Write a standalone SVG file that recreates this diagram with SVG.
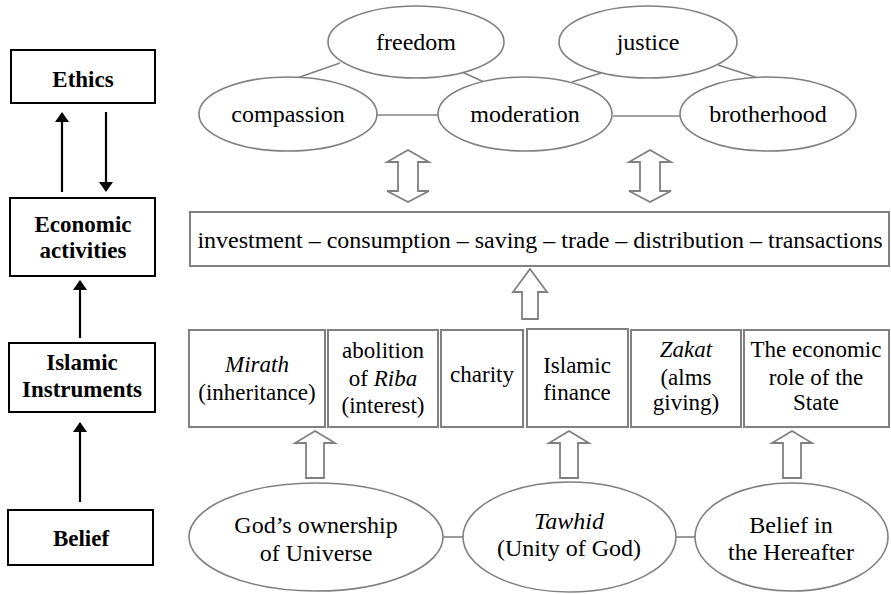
<svg xmlns="http://www.w3.org/2000/svg" width="891" height="594" viewBox="0 0 891 594" font-family="Liberation Serif, DejaVu Serif, serif">
<defs>
<style>
text{font-family:'Liberation Serif','DejaVu Serif',serif}
.lbox{fill:#fff;stroke:#000;stroke-width:2}
.lt{font-weight:bold;font-size:23px;fill:#000;text-anchor:middle}
.ell{fill:#fff;stroke:#808080;stroke-width:1.6}
.gbox{fill:#fff;stroke:#808080;stroke-width:2}
.t{font-size:24px;fill:#000;text-anchor:middle}
.tb{font-size:23px;fill:#000;text-anchor:middle}
.con{stroke:#808080;stroke-width:1.6;fill:none}
.blk{stroke:#000;stroke-width:2.2;fill:none}
.hol{fill:#fff;stroke:#808080;stroke-width:1.8;stroke-linejoin:miter}
</style>
<marker id="ah" viewBox="0 0 10 14" refX="9" refY="7" markerWidth="10" markerHeight="14" markerUnits="userSpaceOnUse" orient="auto">
<path d="M0,0 L10,7 L0,14 Z" fill="#000"/>
</marker>
</defs>

<g id="connectors">
<line class="blk" x1="62" y1="192" x2="62" y2="113" marker-end="url(#ah)"/>
<line class="blk" x1="106" y1="112" x2="106" y2="191" marker-end="url(#ah)"/>
<line class="blk" x1="80" y1="338" x2="80" y2="281" marker-end="url(#ah)"/>
<line class="blk" x1="80" y1="502" x2="80" y2="423" marker-end="url(#ah)"/>
<line class="con" x1="340" y1="63" x2="297" y2="78"/>
<line class="con" x1="462" y1="72" x2="484" y2="82"/>
<line class="con" x1="377" y1="115" x2="438" y2="115"/>
<line class="con" x1="601" y1="73" x2="572" y2="82"/>
<line class="con" x1="718" y1="65" x2="758" y2="78"/>
<line class="con" x1="613" y1="116" x2="680" y2="116"/>
<line class="con" x1="443" y1="537" x2="463" y2="537"/>
<line class="con" x1="676" y1="537" x2="695" y2="537"/>
<path class="hol" d="M408,150 L429,162 L418,162 L418,191 L429,191 L408,202 L387,191 L398,191 L398,162 L387,162 Z"/>
<path class="hol" d="M650,150 L671,162 L660,162 L660,191 L671,191 L650,202 L629,191 L640,191 L640,162 L629,162 Z"/>
<path class="hol" d="M530,269 L547,292 L538,292 L538,319 L522,319 L522,292 L513,292 Z"/>
<path class="hol" d="M315,431 L335,443 L324,443 L324,478 L306,478 L306,443 L295,443 Z"/>
<path class="hol" d="M569,431 L589,443 L578,443 L578,478 L560,478 L560,443 L549,443 Z"/>
<path class="hol" d="M792,431 L812,443 L801,443 L801,478 L783,478 L783,443 L772,443 Z"/>
</g>

<g id="ethics"><rect class="lbox" x="11" y="50" width="144" height="53"/><text class="lt" x="83" y="87">Ethics</text></g>
<g id="economic-activities"><rect class="lbox" x="10" y="198" width="145" height="78"/><text class="lt" x="83" y="232">Economic</text><text class="lt" x="83" y="258">activities</text></g>
<g id="islamic-instruments"><rect class="lbox" x="9" y="343" width="146" height="69"/><text class="lt" x="82" y="370">Islamic</text><text class="lt" x="82" y="397">Instruments</text></g>
<g id="belief"><rect class="lbox" x="8" y="510" width="145" height="55"/><text class="lt" x="81" y="546">Belief</text></g>

<g id="freedom"><ellipse class="ell" cx="416" cy="42" rx="88" ry="36"/><text class="t" x="416" y="50">freedom</text></g>
<g id="justice"><ellipse class="ell" cx="648" cy="42" rx="89" ry="36"/><text class="t" x="648" y="50">justice</text></g>
<g id="compassion"><ellipse class="ell" cx="288" cy="114" rx="89" ry="37"/><text class="t" x="288" y="122">compassion</text></g>
<g id="moderation"><ellipse class="ell" cx="525" cy="114" rx="87" ry="37"/><text class="t" x="525" y="122">moderation</text></g>
<g id="brotherhood"><ellipse class="ell" cx="768" cy="114" rx="88" ry="37"/><text class="t" x="768" y="122">brotherhood</text></g>

<g id="activities"><rect class="gbox" x="190" y="212" width="699" height="54"/><text class="t" x="540" y="248">investment – consumption – saving – trade – distribution – transactions</text></g>

<g id="mirath"><rect class="gbox" x="189" y="330" width="136" height="97"/><text class="tb" x="257" y="372"><tspan font-style="italic">Mirath</tspan></text><text class="tb" x="257" y="400">(inheritance)</text></g>
<g id="riba"><rect class="gbox" x="328" y="330" width="110" height="97"/><text class="tb" x="383" y="358">abolition</text><text class="tb" x="383" y="386">of <tspan font-style="italic">Riba</tspan></text><text class="tb" x="383" y="413">(interest)</text></g>
<g id="charity"><rect class="gbox" x="441" y="330" width="82" height="97"/><text class="tb" x="482" y="382">charity</text></g>
<g id="islamic-finance"><rect class="gbox" x="527" y="329" width="101" height="98"/><text class="tb" x="577" y="373">Islamic</text><text class="tb" x="577" y="400">finance</text></g>
<g id="zakat"><rect class="gbox" x="631" y="330" width="110" height="97"/><text class="tb" x="686" y="357"><tspan font-style="italic">Zakat</tspan></text><text class="tb" x="686" y="385">(alms</text><text class="tb" x="686" y="410">giving)</text></g>
<g id="state"><rect class="gbox" x="744" y="330" width="145" height="97"/><text class="tb" x="816" y="357">The economic</text><text class="tb" x="816" y="385">role of the</text><text class="tb" x="816" y="410">State</text></g>

<g id="gods-ownership"><ellipse class="ell" cx="316" cy="537" rx="127" ry="54"/><text class="t" x="316" y="533">God’s ownership</text><text class="t" x="316" y="561">of Universe</text></g>
<g id="tawhid"><ellipse class="ell" cx="569.5" cy="537" rx="106.5" ry="55"/><text class="t" x="569" y="529"><tspan font-style="italic">Tawhid</tspan></text><text class="t" x="569" y="556">(Unity of God)</text></g>
<g id="hereafter"><ellipse class="ell" cx="791.5" cy="537" rx="96.5" ry="54"/><text class="t" x="791" y="533">Belief in</text><text class="t" x="791" y="560">the Hereafter</text></g>
</svg>
